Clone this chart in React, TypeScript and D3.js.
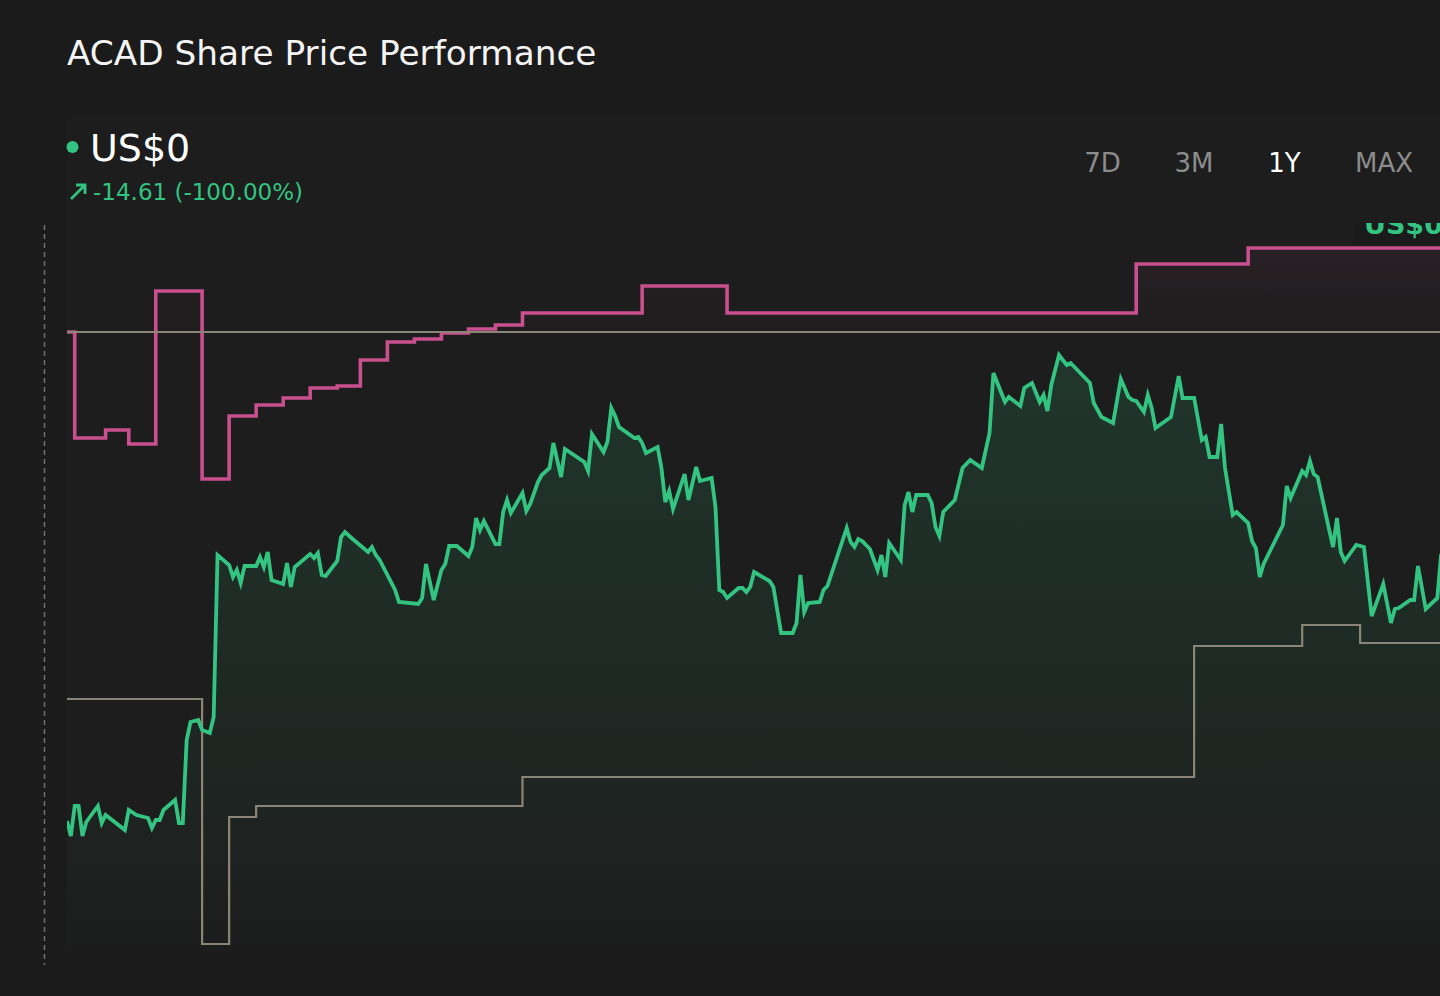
import React from "react";
import * as d3 from "d3";

// ---------- data ----------
const title = "ACAD Share Price Performance";
const currentPriceLabel = "US$0";
const changeLabel = "-14.61 (-100.00%)";
const rangeButtons = ["7D", "3M", "1Y", "MAX"];
const activeRange = "1Y";
const totalDays = 365;

const priceDays = [0,1,2,3,4,5,8,9,10,15,16,18,21,22,23,24,25,28,29,30,31,32,34,35,37,38,39,42,43,44,45,46,49,50,51,52,53,56,57,58,59,63,64,65,66,67,70,71,72,74,78,79,80,81,85,86,91,92,93,95,97,98,99,101,104,105,106,107,108,111,112,113,114,115,118,119,120,122,123,125,126,128,129,134,135,136,139,140,141,142,143,147,148,149,150,153,154,155,156,157,160,161,163,164,167,168,169,170,171,174,175,176,177,178,182,183,185,188,189,190,191,192,195,196,197,202,203,204,205,206,208,210,211,212,213,216,217,218,219,220,223,224,225,226,227,230,232,234,237,239,240,243,244,247,248,250,252,253,254,255,257,259,260,265,266,268,271,273,275,276,277,279,280,281,282,286,288,289,292,294,295,296,298,299,300,302,303,306,307,308,309,310,315,316,317,320,321,322,323,324,327,328,329,330,331,334,336,338,341,343,344,345,348,349,350,352,355,356];

const priceValues = [14.55,13.8,15.3,15.3,13.8,14.5,15.3,14.45,14.85,14.1,15.1,14.85,14.7,14.2,14.6,14.6,15.1,15.6,14.45,14.45,18.6,19.5,19.6,19.1,18.95,19.75,27.85,27.35,26.75,27.1,26.45,27.3,27.3,27.75,27.25,28.0,26.6,26.4,27.45,26.25,27.25,27.9,27.7,27.95,26.85,26.8,27.55,28.75,29.0,28.65,28.0,28.25,27.85,27.6,26.1,25.5,25.4,25.7,27.4,25.6,27.1,27.4,28.3,28.3,27.8,28.25,29.7,29.1,29.55,28.4,28.4,30.0,30.6,29.95,30.95,30.05,30.4,31.5,31.85,32.2,33.45,31.75,33.15,32.5,32.05,33.9,33.0,33.5,35.2,34.8,34.25,33.7,33.75,33.45,32.95,33.25,32.2,30.5,31.05,30.15,31.9,30.6,32.25,31.55,31.7,30.25,26.1,26.0,25.7,26.2,26.2,26.0,26.25,27.0,26.55,26.25,23.95,23.95,24.45,26.85,25.0,25.45,25.5,26.1,26.3,29.2,28.5,28.25,28.65,28.55,28.15,27.1,27.85,26.75,28.45,27.6,30.35,31.0,30.0,30.85,30.85,30.45,29.25,28.8,30.0,30.6,32.2,32.6,32.2,33.95,36.95,35.5,35.75,35.3,36.2,36.45,35.5,35.85,35.05,36.35,37.85,37.35,37.45,36.45,35.45,34.75,34.45,36.65,35.75,35.6,35.55,35.0,35.85,35.2,34.2,34.75,36.8,35.7,35.7,33.6,33.75,32.75,32.75,34.4,32.2,29.85,30.0,29.45,28.55,28.2,26.75,27.4,29.35,31.3,30.7,32.05,31.85,32.55,31.9,31.75,29.1,28.25,29.7,28.0,27.55,28.35,28.25,24.8,26.4,24.45,25.15,25.2,25.6,25.6,27.3,25.15,25.7,27.9];

const highTargetDays = [0,2,10,16,23,35,42,49,56,63,70,76,83,90,97,104,111,118,149,171,277,306];
const highTargetValues = [39.0,33.7,34.1,33.4,41.05,31.65,34.8,35.35,35.7,36.2,36.3,37.6,38.5,38.65,38.95,39.15,39.35,39.95,41.3,39.95,42.4,43.2];

const lowTargetDays = [0,35,42,49,118,292,320,335];
const lowTargetValues = [20.65,8.4,14.75,15.3,16.75,23.3,24.35,23.45];

const referenceLevel = 39.0;

// ---------- style / layout ----------
const BG = "#1b1b1b";
const PANEL = "#1d1d1d";
const GREEN = "#33c481";
const PINK = "#c94f8e";
const GREY = "#8a8576";
const FONT = "'DejaVu Sans', Verdana, sans-serif";
const buttonCenters = [1102.5, 1194, 1284.5, 1384];

type P = [number, number];

export default function App() {
  const W = 1440;
  const H = 996;
  const plot = { left: 67, top: 223, right: 1440, bottom: 965 };

  const x = d3.scaleLinear().domain([0, totalDays]).range([67, 67 + totalDays * 3.86]);
  const y = d3.scaleLinear().domain([8, 44]).range([952, 232]);

  const pricePts: P[] = priceDays.map((d, i) => [d, priceValues[i]]);
  const stepPts = (days: number[], vals: number[]): P[] => {
    const pts: P[] = days.map((d, i) => [d, vals[i]]);
    pts.push([totalDays, vals[vals.length - 1]]);
    return pts;
  };
  const highPts = stepPts(highTargetDays, highTargetValues);
  const lowPts = stepPts(lowTargetDays, lowTargetValues);
  const refPts: P[] = [[0, referenceLevel], [totalDays, referenceLevel]];

  const line = d3.line<P>().x((d) => x(d[0])).y((d) => y(d[1]));
  const area = d3.area<P>().x((d) => x(d[0])).y0(plot.bottom).y1((d) => y(d[1]));
  const step = d3.line<P>().x((d) => x(d[0])).y((d) => y(d[1])).curve(d3.curveStepAfter);
  const stepArea = d3
    .area<P>()
    .x((d) => x(d[0]))
    .y0(plot.bottom)
    .y1((d) => y(d[1]))
    .curve(d3.curveStepAfter);

  return (
    <>
      <style>{`html,body{margin:0;padding:0;background:${BG};}`}</style>
      <svg width={W} height={H} style={{ display: "block", background: BG }} fontFamily={FONT}>
        <defs>
          <clipPath id="plotClip">
            <rect x={plot.left} y={plot.top} width={plot.right - plot.left} height={plot.bottom - plot.top} />
          </clipPath>
          <linearGradient id="greenFill" gradientUnits="userSpaceOnUse" x1="0" y1="355" x2="0" y2="965">
            <stop offset="0" stopColor={GREEN} stopOpacity={0.15} />
            <stop offset="0.85" stopColor={GREEN} stopOpacity={0.025} />
            <stop offset="1" stopColor={GREEN} stopOpacity={0} />
          </linearGradient>
          <linearGradient id="pinkFill" gradientUnits="userSpaceOnUse" x1="0" y1="245" x2="0" y2="345">
            <stop offset="0" stopColor={PINK} stopOpacity={0.07} />
            <stop offset="1" stopColor={PINK} stopOpacity={0} />
          </linearGradient>
          <linearGradient id="panelFill" gradientUnits="userSpaceOnUse" x1="0" y1="115" x2="0" y2="996">
            <stop offset="0" stopColor={PANEL} />
            <stop offset="0.85" stopColor={PANEL} />
            <stop offset="1" stopColor={BG} />
          </linearGradient>
        </defs>

        <rect x={0} y={0} width={W} height={H} fill={BG} />
        <rect x={67} y={115} width={W - 67} height={H - 115} fill="url(#panelFill)" />

        {/* title */}
        <text x={67} y={65} fill="#f4f4f4" fontSize={34.3}>
          {title}
        </text>

        {/* current price */}
        <circle cx={72.5} cy={147} r={6} fill={GREEN} />
        <text x={90} y={161} fill="#ffffff" fontSize={38}>
          {currentPriceLabel}
        </text>
        <path d="M71 199 L85 185 M76 185 L85 185 L85 194" stroke={GREEN} strokeWidth={2.8} fill="none" />
        <text x={93} y={200} fill={GREEN} fontSize={23}>
          {changeLabel}
        </text>

        {/* range buttons */}
        {rangeButtons.map((b, i) => (
          <text
            key={b}
            x={buttonCenters[i]}
            y={172}
            textAnchor="middle"
            fontSize={26}
            fill={b === activeRange ? "#ffffff" : "#8c8c8c"}
          >
            {b}
          </text>
        ))}

        {/* dashed left guide */}
        <line x1={44.5} x2={44.5} y1={225} y2={965} stroke="#6e6e6e" strokeWidth={1.5} strokeDasharray="5 4" />

        <g clipPath="url(#plotClip)">
          <path d={stepArea(highPts) ?? ""} fill="url(#pinkFill)" />
          <path d={area(pricePts) ?? ""} fill="url(#greenFill)" />
          <path d={step(highPts) ?? ""} fill="none" stroke={PINK} strokeWidth={3.6} />
          <path d={line(refPts) ?? ""} fill="none" stroke={GREY} strokeWidth={2.2} />
          <path d={step(lowPts) ?? ""} fill="none" stroke={GREY} strokeWidth={2.2} />
          <path d={line(pricePts) ?? ""} fill="none" stroke={GREEN} strokeWidth={3.8} strokeLinejoin="miter" />
          <rect x={1355} y={195} width={120} height={50} fill={BG} />
          <text x={1364} y={234} fill={GREEN} fontSize={27} fontWeight="bold">
            {currentPriceLabel}
          </text>
        </g>
      </svg>
    </>
  );
}
